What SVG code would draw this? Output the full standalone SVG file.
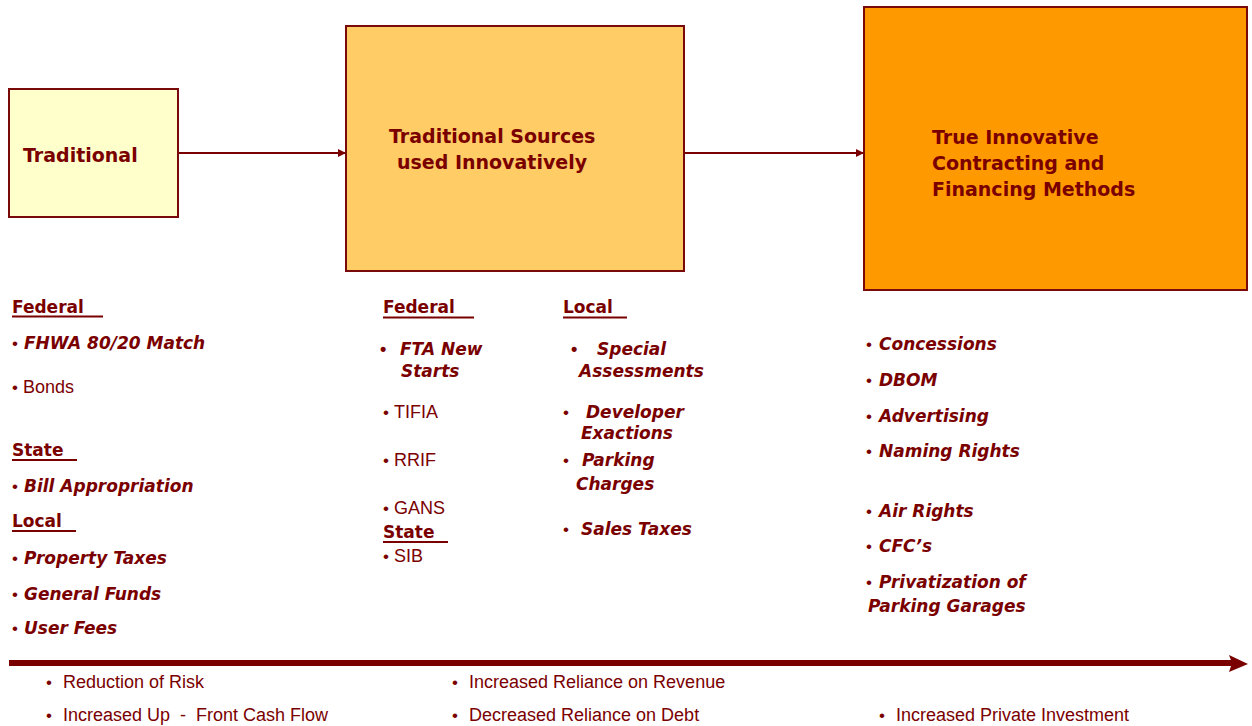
<svg xmlns="http://www.w3.org/2000/svg" width="1252" height="726" viewBox="0 0 1252 726">
<defs>
<style>
.box{stroke:#7a0a0a;stroke-width:2}
.title{font-family:"DejaVu Sans",sans-serif;font-weight:bold;font-size:19px;fill:#7a0000}
.hd{font-family:"DejaVu Sans",sans-serif;font-weight:bold;font-size:17px;fill:#7a0000}
.bi{font-family:"DejaVu Sans",sans-serif;font-weight:bold;font-style:italic;font-size:17px;fill:#7a0000}
.rg{font-family:"Liberation Sans",Arial,sans-serif;font-size:18px;fill:#7a0000}
.bt{font-family:"Liberation Sans",Arial,sans-serif;font-size:18px;fill:#7a0000}
.sb{font-family:"Liberation Sans",Arial,sans-serif;font-weight:normal;font-style:normal;font-size:17px}
.lb{font-family:"Liberation Sans",Arial,sans-serif;font-weight:bold;font-style:normal;font-size:18px}
.ul{stroke:#7a0000;stroke-width:2}
.conn{stroke:#7a0000;stroke-width:2;fill:none}
</style>
<marker id="ah" viewBox="0 0 10 10" refX="10" refY="5" markerWidth="10" markerHeight="8" markerUnits="userSpaceOnUse" orient="auto">
<path d="M0,0 L10,5 L0,10 z" fill="#7a0000"/>
</marker>
</defs>
<rect width="1252" height="726" fill="#ffffff"/>

<g id="connectors">
<line class="conn" x1="179" y1="153" x2="346" y2="153" marker-end="url(#ah)"/>
<line class="conn" x1="685" y1="153" x2="864" y2="153" marker-end="url(#ah)"/>
<line x1="9" y1="663" x2="1232" y2="663" stroke="#7a0000" stroke-width="6"/>
<path d="M1229,655 L1248,664 L1229,672 L1232,663 z" fill="#7a0000"/>
</g>

<g id="node-traditional">
<rect class="box" x="9" y="89" width="169" height="128" fill="#ffffcc"/>
<text class="title" x="23" y="162">Traditional</text>
</g>

<g id="node-sources">
<rect class="box" x="346" y="26" width="338" height="245" fill="#ffcc66"/>
<text class="title" x="389" y="143">Traditional Sources</text>
<text class="title" x="397" y="169">used Innovatively</text>
</g>

<g id="node-true">
<rect class="box" x="864" y="7" width="383" height="283" fill="#ff9900"/>
<text class="title" x="932" y="144">True Innovative</text>
<text class="title" x="932" y="170">Contracting and</text>
<text class="title" x="932" y="196">Financing Methods</text>
</g>

<g id="list-traditional">
<text class="hd" x="12" y="313">Federal</text>
<line class="ul" x1="12" y1="316.5" x2="103" y2="316.5"/>
<text class="bi" x="12" y="349"><tspan class="sb">•</tspan><tspan x="24">FHWA 80/20 Match</tspan></text>
<text class="rg" x="12" y="393"><tspan class="sb">•</tspan><tspan x="23">Bonds</tspan></text>
<text class="hd" x="12" y="456">State</text>
<line class="ul" x1="12" y1="460" x2="77" y2="460"/>
<text class="bi" x="12" y="492"><tspan class="sb">•</tspan><tspan x="24">Bill Appropriation</tspan></text>
<text class="hd" x="12" y="527">Local</text>
<line class="ul" x1="12" y1="531" x2="76" y2="531"/>
<text class="bi" x="12" y="564"><tspan class="sb">•</tspan><tspan x="24">Property Taxes</tspan></text>
<text class="bi" x="12" y="600"><tspan class="sb">•</tspan><tspan x="24">General Funds</tspan></text>
<text class="bi" x="12" y="634"><tspan class="sb">•</tspan><tspan x="24">User Fees</tspan></text>
</g>

<g id="list-sources">
<text class="hd" x="383" y="313">Federal</text>
<line class="ul" x1="383" y1="317.5" x2="474" y2="317.5"/>
<text class="bi" x="380" y="355"><tspan class="lb">•</tspan><tspan x="400">FTA New</tspan></text>
<text class="bi" x="401" y="377">Starts</text>
<text class="rg" x="383" y="418"><tspan class="sb">•</tspan><tspan x="394">TIFIA</tspan></text>
<text class="rg" x="383" y="466"><tspan class="sb">•</tspan><tspan x="394">RRIF</tspan></text>
<text class="rg" x="383" y="514"><tspan class="sb">•</tspan><tspan x="394">GANS</tspan></text>
<text class="hd" x="383" y="538">State</text>
<line class="ul" x1="383" y1="542" x2="448" y2="542"/>
<text class="rg" x="383" y="562"><tspan class="sb">•</tspan><tspan x="394">SIB</tspan></text>

<text class="hd" x="563" y="313">Local</text>
<line class="ul" x1="563" y1="317.5" x2="627" y2="317.5"/>
<text class="bi" x="571" y="355"><tspan class="lb">•</tspan><tspan x="597">Special</tspan></text>
<text class="bi" x="579" y="377">Assessments</text>
<text class="bi" x="563" y="418"><tspan class="sb">•</tspan><tspan x="586">Developer</tspan></text>
<text class="bi" x="581" y="439">Exactions</text>
<text class="bi" x="563" y="466"><tspan class="sb">•</tspan><tspan x="582">Parking</tspan></text>
<text class="bi" x="576" y="490">Charges</text>
<text class="bi" x="563" y="535"><tspan class="sb">•</tspan><tspan x="581">Sales Taxes</tspan></text>
</g>

<g id="list-true">
<text class="bi" x="866" y="350"><tspan class="sb">•</tspan><tspan x="879">Concessions</tspan></text>
<text class="bi" x="866" y="386"><tspan class="sb">•</tspan><tspan x="879">DBOM</tspan></text>
<text class="bi" x="866" y="422"><tspan class="sb">•</tspan><tspan x="879">Advertising</tspan></text>
<text class="bi" x="866" y="457"><tspan class="sb">•</tspan><tspan x="879">Naming Rights</tspan></text>
<text class="bi" x="866" y="517"><tspan class="sb">•</tspan><tspan x="879">Air Rights</tspan></text>
<text class="bi" x="866" y="552"><tspan class="sb">•</tspan><tspan x="879">CFC’s</tspan></text>
<text class="bi" x="866" y="588"><tspan class="sb">•</tspan><tspan x="879">Privatization of</tspan></text>
<text class="bi" x="868" y="612">Parking Garages</text>
</g>

<g id="bottom-notes">
<text class="bt" x="46" y="688"><tspan class="sb">•</tspan><tspan x="63">Reduction of Risk</tspan></text>
<text class="bt" x="46" y="721"><tspan class="sb">•</tspan><tspan x="63" xml:space="preserve">Increased Up  -  Front Cash Flow</tspan></text>
<text class="bt" x="452" y="688"><tspan class="sb">•</tspan><tspan x="469">Increased Reliance on Revenue</tspan></text>
<text class="bt" x="452" y="721"><tspan class="sb">•</tspan><tspan x="469">Decreased Reliance on Debt</tspan></text>
<text class="bt" x="879" y="721"><tspan class="sb">•</tspan><tspan x="896">Increased Private Investment</tspan></text>
</g>
</svg>
